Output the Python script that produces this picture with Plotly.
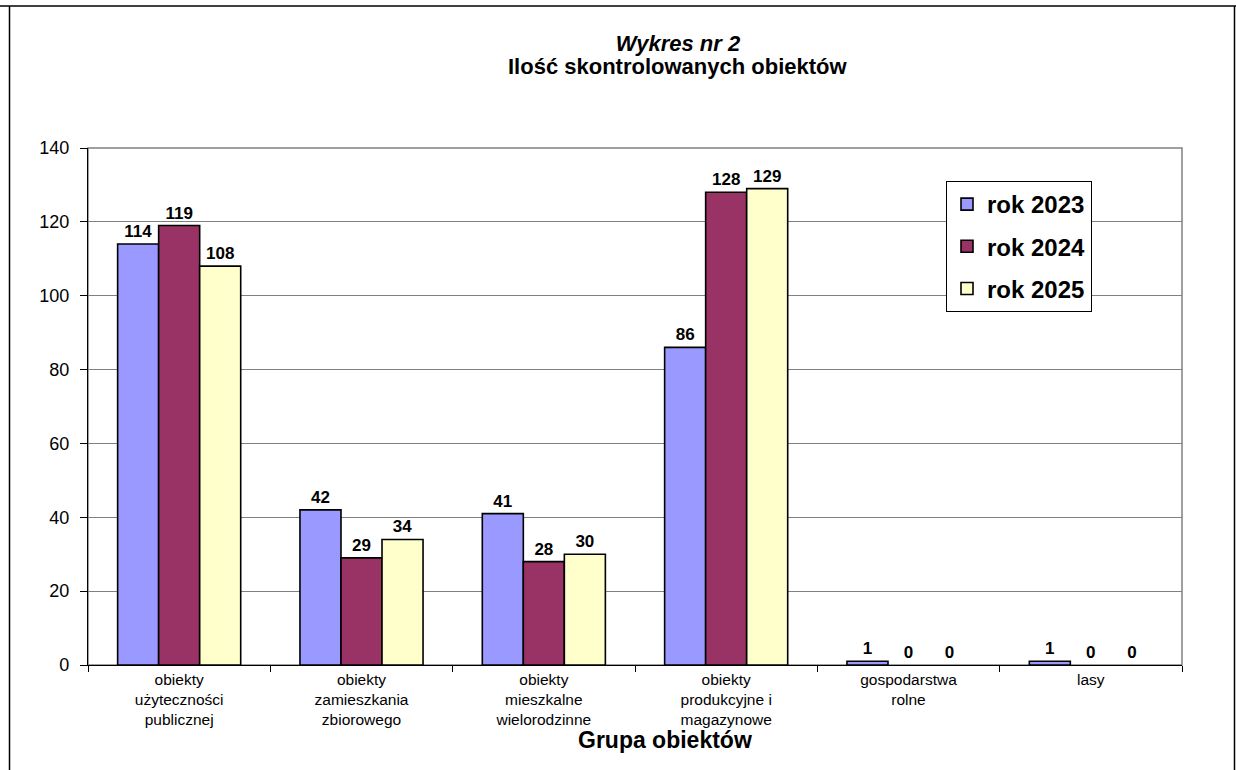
import plotly.graph_objects as go

# ---- data ----
categories = [
    "obiekty<br>użyteczności<br>publicznej",
    "obiekty<br>zamieszkania<br>zbiorowego",
    "obiekty<br>mieszkalne<br>wielorodzinne",
    "obiekty<br>produkcyjne i<br>magazynowe",
    "gospodarstwa<br>rolne",
    "lasy",
]
series_names = ["rok 2023", "rok 2024", "rok 2025"]
v2023 = [114, 42, 41, 86, 1, 1]
v2024 = [119, 29, 28, 128, 0, 0]
v2025 = [108, 34, 30, 129, 0, 0]
y_ticks = [0, 20, 40, 60, 80, 100, 120, 140]

colors = ["#9999FF", "#993366", "#FFFFCC"]
FONT = "Arial, Liberation Sans, sans-serif"

fig = go.Figure()
for name, vals, col in zip(series_names, [v2023, v2024, v2025], colors):
    fig.add_trace(go.Bar(
        x=categories, y=vals, name=name, legendgroup=name,
        marker=dict(color=col,
                    line=dict(color="black",
                              width=[1.6 if v > 0 else 0 for v in vals])),
        text=[str(v) for v in vals], textposition="outside",
        textfont=dict(family=FONT, size=17, color="black", weight="bold"),
        cliponaxis=False,
    ))

W, H = 1236, 770
ml, mr, mt, mb = 88, 54, 148, 105
pw, ph = W - ml - mr, H - mt - mb

def px_x(p):
    return (p - ml) / pw

def px_y(p):
    return (H - mb - p) / ph

shapes = [
    # plot area frame (grey)
    dict(type="rect", xref="paper", yref="paper", x0=0, x1=1, y0=0, y1=1,
         line=dict(color="#808080", width=1.5), layer="below"),
    # outer page border
    dict(type="line", xref="paper", yref="paper", x0=px_x(0), x1=px_x(1236),
         y0=px_y(6), y1=px_y(6), line=dict(color="black", width=1.5)),
    dict(type="line", xref="paper", yref="paper", x0=px_x(9.5), x1=px_x(9.5),
         y0=px_y(6), y1=px_y(770), line=dict(color="black", width=1.5)),
    dict(type="line", xref="paper", yref="paper", x0=px_x(1234.5), x1=px_x(1234.5),
         y0=px_y(6), y1=px_y(770), line=dict(color="black", width=1.5)),
]

fig.update_layout(
    width=W, height=H,
    margin=dict(l=ml, r=mr, t=mt, b=mb, pad=0),
    paper_bgcolor="white", plot_bgcolor="white",
    font=dict(family=FONT, color="black"),
    barmode="group", bargap=0.325, bargroupgap=0,
    title=dict(
        text="<i>Wykres nr 2</i>",
        x=678 / W, xref="container", xanchor="center",
        y=1 - 43 / H, yref="container", yanchor="middle",
        font=dict(family=FONT, size=22, color="black", weight="bold"),
    ),
    legend=dict(
        x=px_x(946), y=px_y(181), xanchor="left", yanchor="top",
        bgcolor="white", bordercolor="black", borderwidth=1,
        font=dict(family=FONT, size=24, color="black", weight="bold"),
        traceorder="grouped", tracegroupgap=8, itemwidth=30,
    ),
    xaxis=dict(
        showline=True, linecolor="black", linewidth=1.3,
        ticks="outside", ticklen=6, tickcolor="black", tickson="boundaries",
        tickfont=dict(family=FONT, size=15.5, color="black"),
        showgrid=False, fixedrange=True,
    ),
    yaxis=dict(
        range=[0, 140], tickvals=y_ticks,
        showline=True, linecolor="black", linewidth=1.3,
        ticks="outside", ticklen=7, tickcolor="black",
        tickfont=dict(family=FONT, size=18, color="black"),
        ticklabelstandoff=7,
        showgrid=True, gridcolor="#808080", gridwidth=1,
        zeroline=False, fixedrange=True,
    ),
    shapes=shapes,
    annotations=[
        dict(text="<b>Ilość skontrolowanych obiektów</b>",
             xref="paper", yref="paper", x=px_x(678), y=px_y(67),
             xanchor="center", yanchor="middle", showarrow=False,
             font=dict(family=FONT, size=22, color="black")),
        dict(text="<b>Grupa obiektów</b>", xref="paper", yref="paper",
             x=px_x(665), y=px_y(740), xanchor="center", yanchor="middle",
             showarrow=False, font=dict(family=FONT, size=23, color="black")),
    ],
    showlegend=True,
)

fig.write_html(
    "out.html",
    config={"displayModeBar": False},
    post_script="document.body.style.margin='0';document.body.style.overflow='hidden';",
)
